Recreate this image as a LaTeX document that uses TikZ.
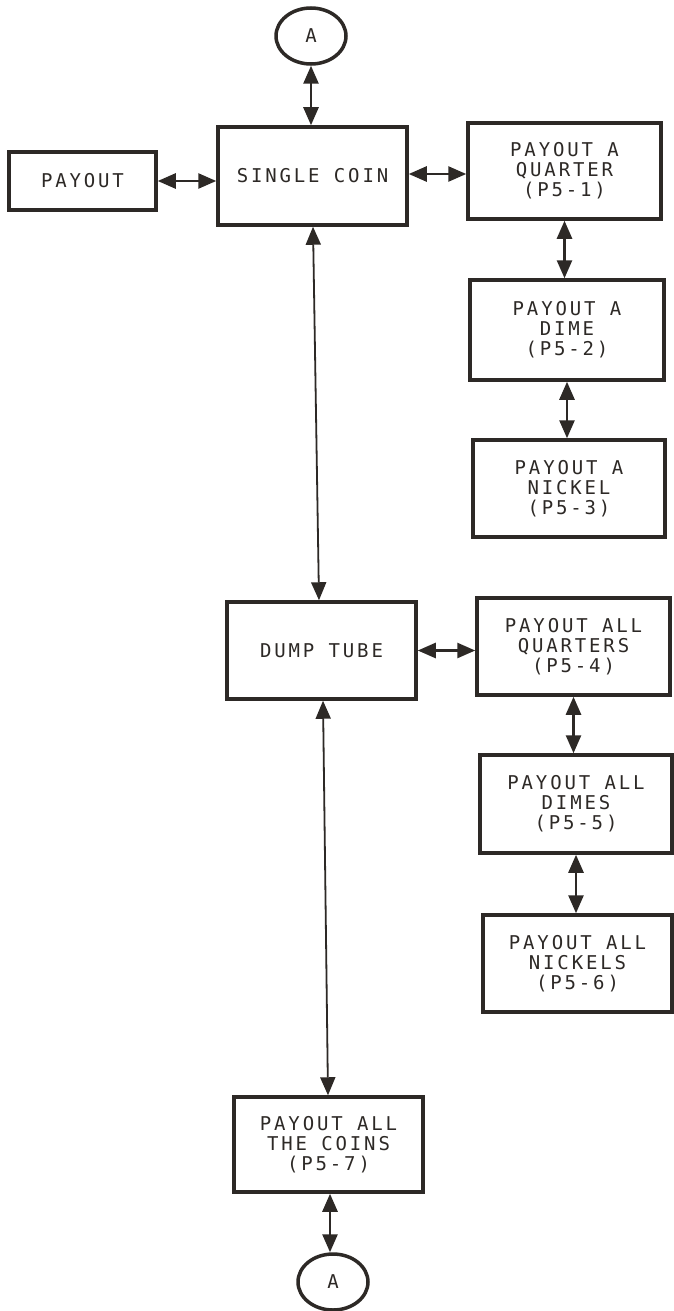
\documentclass[tikz,border=0pt]{standalone}
\usepackage{fontspec}
\newfontfamily\plotfont[LetterSpace=15]{DejaVu Sans Mono}
\usetikzlibrary{arrows.meta,shapes.geometric}
\definecolor{ink}{RGB}{45,41,38}
\begin{document}
\begin{tikzpicture}[x=1pt,y=-1pt,
  box/.style={draw=ink,line width=3.5pt,inner sep=0pt,align=center,text=ink,
    font=\plotfont\fontsize{19}{20}\selectfont,minimum width=190pt,minimum height=97pt},
  conn/.style={draw=ink,line width=2.6pt,
    {Triangle[length=18pt,width=15pt]}-{Triangle[length=18pt,width=15pt]}},
  longconn/.style={conn,line width=1.8pt},
  oval/.style={ellipse,draw=ink,line width=3.5pt,inner sep=0pt,text=ink,
    font=\plotfont\fontsize{19}{20}\selectfont,minimum width=70pt,minimum height=56pt}]
\useasboundingbox (0,0) rectangle (673,1311);
\fill[white] (0,0) rectangle (673,1311);

\node[oval] (A1) at (311,36) {A};
\node[box,minimum width=189pt,minimum height=98pt] (single) at (312.5,176) {SINGLE COIN};
\node[box,minimum width=147pt,minimum height=58pt] (payout) at (82.5,181) {PAYOUT};
\node[box,minimum width=193pt,minimum height=96pt] (q1) at (564.5,171) {PAYOUT A\\QUARTER\\(P5-1)};
\node[box,minimum width=194pt,minimum height=100pt] (d1) at (567,330) {PAYOUT A\\DIME\\(P5-2)};
\node[box,minimum width=192pt,minimum height=97pt] (n1) at (569,488.5) {PAYOUT A\\NICKEL\\(P5-3)};
\node[box,minimum width=189pt,minimum height=97pt] (dump) at (321.5,650.5) {DUMP TUBE};
\node[box,minimum width=193pt,minimum height=97pt] (qa) at (573.5,646.5) {PAYOUT ALL\\QUARTERS\\(P5-4)};
\node[box,minimum width=192pt,minimum height=98pt] (da) at (576,804) {PAYOUT ALL\\DIMES\\(P5-5)};
\node[box,minimum width=189pt,minimum height=97pt] (na) at (577.5,963.5) {PAYOUT ALL\\NICKELS\\(P5-6)};
\node[box,minimum width=189pt,minimum height=95pt] (all) at (328.5,1144.5) {PAYOUT ALL\\THE COINS\\(P5-7)};
\node[oval] (A2) at (333,1282) {A};

\draw[conn] (A1.south) -- (A1.south |- single.north);
\draw[conn] (payout.east) -- (payout.east -| single.west);
\draw[conn] ([yshift=2pt]single.east) -- ([yshift=2pt]single.east -| q1.west);
\draw[conn] (q1.south) -- (q1.south |- d1.north);
\draw[conn] (d1.south) -- (d1.south |- n1.north);
\draw[longconn] ([xshift=0.5pt]single.south) -- ([xshift=-2.5pt]dump.north);
\draw[conn] (dump.east) -- (dump.east -| qa.west);
\draw[conn] (qa.south) -- (qa.south |- da.north);
\draw[conn] (da.south) -- (da.south |- na.north);
\draw[longconn] ([xshift=1.5pt]dump.south) -- ([xshift=-0.5pt]all.north);
\draw[conn] ([xshift=1.5pt]all.south) -- ([xshift=1.5pt]all.south |- A2.north);
\end{tikzpicture}
\end{document}
